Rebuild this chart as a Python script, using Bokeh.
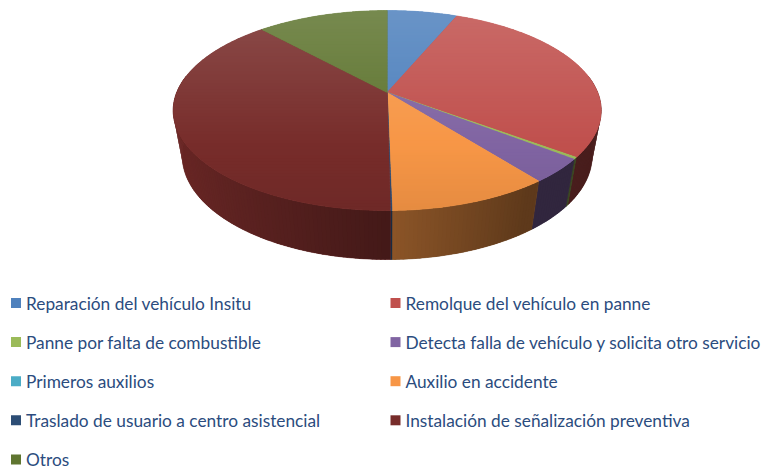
import numpy as np
from bokeh.plotting import figure
from bokeh.models import Range1d
from bokeh.core.properties import value
from bokeh.embed import file_html
from bokeh.resources import INLINE

# ---- data (share of services, %) ----
categories = [
    "Reparación del vehículo Insitu",
    "Remolque del vehículo en panne",
    "Panne por falta de combustible",
    "Detecta falla de vehículo y solicita otro servicio",
    "Primeros auxilios",
    "Auxilio en accidente",
    "Traslado de usuario a centro asistencial",
    "Instalación de señalización preventiva",
    "Otros",
]
shares = [6.3, 28.9, 0.3, 3.9, 0.0, 10.3, 0.1, 38.4, 11.8]
colors = ["#4F81BD", "#C0504D", "#9BBB59", "#8064A2", "#4BACC6",
          "#F79646", "#2C4D75", "#772C2A", "#5F7530"]

# ---- 3D perspective projection of a unit disc (screen px coords) ----
CX, CY = 386.7, 92.0
A, B, K = 210.5, 96.76, 0.18
C, M = 47.3, 0.0425


def proj(theta, r=1.0, d=0.0):
    u = r * np.sin(theta)
    v = r * np.cos(theta)
    w = 1 + K * v + M * d
    return CX + A * u / w, CY + (-B * v + C * d) / w


def hex2rgb(h):
    h = h.lstrip("#")
    return np.array([int(h[i:i + 2], 16) for i in (0, 2, 4)], dtype=float)


def rgb2hex(c):
    c = np.clip(np.round(c), 0, 255).astype(int)
    return "#%02x%02x%02x" % tuple(c)


def top_color(base, y):
    f = min(max((y - 10.0) / 200.0, 0.0), 1.0)
    light = 0.15 * (1 - f) - 0.07 * f
    c = hex2rgb(base)
    if light >= 0:
        c = c + (255 - c) * light
    else:
        c = c * (1 + light)
    return rgb2hex(c)


def wall_shade(theta):
    return max(0.57 + 0.33 * np.cos(theta - 1.5 * np.pi), 0.38)


def wall_color(base, theta):
    return rgb2hex(hex2rgb(base) * wall_shade(theta))


def clip_half(poly, y0, keep_above):
    out = []
    n = len(poly)
    for i in range(n):
        P = poly[i]
        Q = poly[(i + 1) % n]
        inP = (P[1] >= y0) if not keep_above else (P[1] <= y0)
        inQ = (Q[1] >= y0) if not keep_above else (Q[1] <= y0)
        if inP:
            out.append(P)
        if inP != inQ:
            t = (y0 - P[1]) / (Q[1] - P[1])
            out.append((P[0] + t * (Q[0] - P[0]), y0))
    return out


total = float(sum(shares))
ends = np.cumsum(shares) / total * 2 * np.pi
starts = np.concatenate([[0.0], ends[:-1]])

W, H = 762, 470
p = figure(width=W, height=H, x_range=Range1d(0, W), y_range=Range1d(H, 0),
           output_backend="svg", toolbar_location=None, min_border=0,
           x_axis_location=None, y_axis_location=None)
p.grid.visible = False
p.outline_line_color = None
p.background_fill_color = "white"
p.border_fill_color = "white"

# ---- outer walls (front part only; back part is hidden by the top) ----
VIS0, VIS1 = np.radians(80), np.radians(280)
for a0, a1, col in zip(starts, ends, colors):
    b0, b1 = max(a0, VIS0), min(a1, VIS1)
    if b1 - b0 <= 0:
        continue
    n = max(1, int(np.ceil((b1 - b0) / np.radians(1.0))))
    th = np.linspace(b0, b1, n + 1)
    # base strip of the whole wall
    topx, topy = proj(th)
    botx, boty = proj(th[::-1], d=1.0)
    mid = wall_color(col, 0.5 * (b0 + b1))
    p.patch(list(topx) + list(botx), list(topy) + list(boty),
            fill_color=mid, line_color=mid, line_width=0.5)
    xs, ys, cs = [], [], []
    ov = np.radians(0.4)
    for i in range(n):
        ta = th[i]
        tb = min(th[i + 1] + ov, b1)
        xa, ya = proj(ta)
        xb, yb = proj(tb)
        xc, yc = proj(tb, d=1.0)
        xd, yd = proj(ta, d=1.0)
        xs.append([xa, xb, xc, xd])
        ys.append([ya, yb, yc, yd])
        cs.append(wall_color(col, 0.5 * (th[i] + th[i + 1])))
    p.patches(xs, ys, fill_color=cs, line_color=None)

# ---- top face: each slice cut into overlapping horizontal gradient strips ----
STRIP = 3.0
OVER = 1.0
for a0, a1, col in zip(starts, ends, colors):
    if a1 - a0 <= 0:
        continue
    n = max(2, int(np.ceil((a1 - a0) / np.radians(0.5))))
    th = np.linspace(a0, a1, n + 1)
    poly = [(CX, CY)] + [proj(t) for t in th]
    p.patch([q[0] for q in poly], [q[1] for q in poly], fill_color=top_color(col, 110.0),
            line_color=top_color(col, 110.0), line_width=0.5)
    ymin = min(q[1] for q in poly)
    ymax = max(q[1] for q in poly)
    txs, tys, tcs = [], [], []
    y0 = np.floor(ymin / STRIP) * STRIP
    while y0 < ymax:
        y1 = y0 + STRIP
        part = clip_half(poly, y0 - OVER, keep_above=False)
        if len(part) >= 3:
            part = clip_half(part, y1, keep_above=True)
        if len(part) >= 3:
            txs.append([q[0] for q in part])
            tys.append([q[1] for q in part])
            tcs.append(top_color(col, y0 + STRIP / 2))
        y0 = y1
    p.patches(txs, tys, fill_color=tcs, line_color=None)

# ---- legend (two columns) ----
rows = [i // 2 for i in range(len(categories))]
cols = [i % 2 for i in range(len(categories))]
ly = [302.5 + 39.1 * r for r in rows]
sq_x = [15.5 if c == 0 else 395.0 for c in cols]
tx_x = [25.5 if c == 0 else 405.0 for c in cols]
p.rect(x=sq_x, y=ly, width=10, height=10, fill_color=colors, line_color=None)
p.text(x=tx_x, y=ly, text=categories, text_font=value("Lato"), text_font_size="17.3px",
       text_baseline="middle", text_align="left", text_color="#2b4c7e")

open("out.html", "w").write(file_html(p, INLINE))
